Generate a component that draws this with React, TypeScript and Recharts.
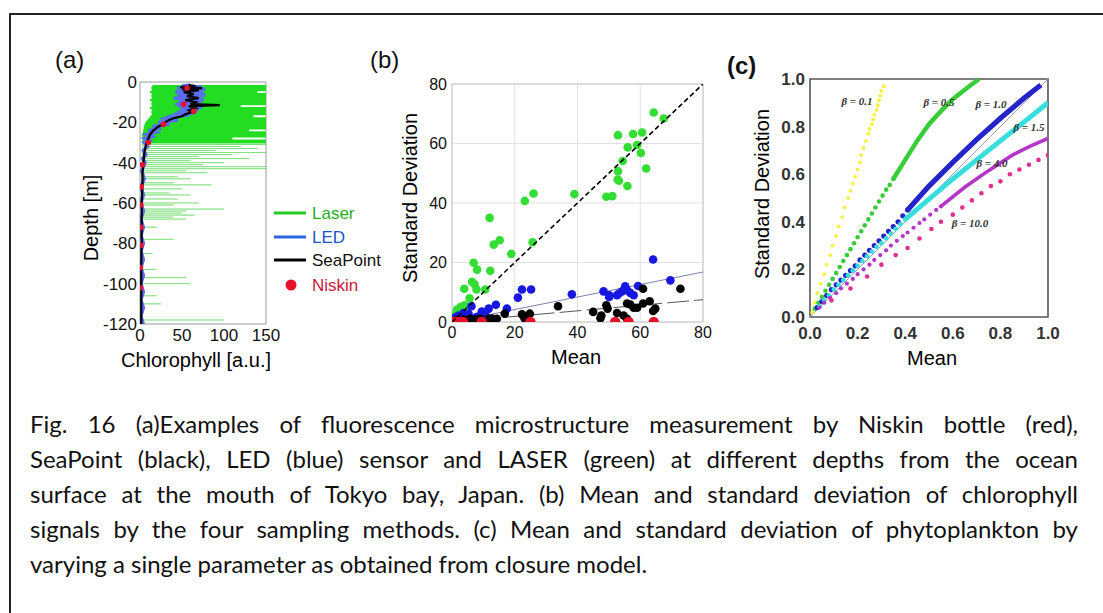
import React from 'react';
import { ScatterChart, Scatter, XAxis, YAxis, CartesianGrid, ReferenceArea } from 'recharts';

const SANS = '"Liberation Sans", Arial, sans-serif';
const SERIF = '"Liberation Serif", "DejaVu Serif", serif';
const CAPTION_FONT = 'Lato, "Open Sans", sans-serif';

// ---- (a) depth profiles: depth [m] (negative = down), chlorophyll [a.u.]
const laserDenseDepth = [-2, -3, -4, -5, -6, -7, -8, -9, -10, -11, -12, -13, -14, -15, -16, -17, -18, -19, -20, -21, -22, -23, -24, -25, -26, -27, -28, -29, -30];
const laserDenseLow = [16, 15, 16, 14, 16, 15, 16, 14, 16, 15, 16, 14, 16, 15, 16, 14, 12, 10, 8, 7, 6, 6, 5, 5, 4, 4, 4, 4, 4];
const laserDenseHigh = [150, 150, 150, 140, 150, 150, 150, 150, 150, 150, 120, 150, 150, 150, 150, 135, 150, 150, 150, 150, 150, 150, 130, 150, 150, 150, 110, 150, 150];

const laserSparseDepth = [-31, -32, -33, -34, -35, -36, -37, -38, -39, -40, -41, -42, -43, -44, -45, -47, -48, -50, -51, -53, -55, -56, -58, -60, -61, -63, -64, -65, -66, -67, -68, -72, -78, -85, -93, -97, -100, -106, -110, -118];
const laserSparseLow = [3, 3, 3, 3, 3, 3, 3, 3, 3, 3, 3, 3, 3, 3, 3, 2, 2, 2, 2, 2, 2, 2, 2, 2, 2, 2, 2, 2, 2, 2, 2, 2, 2, 2, 2, 2, 2, 2, 2, 2];
const laserSparseHigh = [150, 120, 140, 90, 150, 110, 70, 130, 60, 100, 75, 150, 150, 55, 80, 45, 60, 40, 85, 50, 35, 60, 45, 70, 40, 100, 55, 50, 65, 40, 55, 20, 40, 15, 20, 55, 60, 20, 25, 100];

const ledDepth = [
  -1.5, -2, -2.5, -3, -3.5, -4, -4.5, -5, -5.5, -6, -6.5, -7, -7.5, -8, -8.5, -9, -9.5, -10, -10.5, -11, -11.5, -12,
  -12.5, -13, -13.5, -14, -14.5, -15, -15.5, -16, -16.5, -17,
  -18, -19, -20, -21, -22, -23, -24, -25, -26, -27, -28, -29, -30, -32, -34, -36, -38, -40,
  -44, -48, -52, -56, -60, -64, -68, -72, -76, -80, -84, -88, -92, -96, -100, -104, -108, -112, -116, -120,
];
const ledChl = [
  60, 50, 74, 44, 78, 46, 76, 42, 74, 48, 78, 44, 72, 40, 76, 48, 74, 46, 70, 42, 72, 46,
  74, 50, 70, 48, 68, 44, 64, 40, 58, 36,
  30, 45, 22, 35, 15, 25, 10, 18, 8, 14, 6, 11, 5, 9, 4, 7, 3, 6,
  2, 5, 1, 4, 1, 4, 1, 4, 1, 4, 1, 4, 1, 4, 1, 4, 1, 4, 1, 4,
];

const seaPointDepth = [-1.5, -2, -2.5, -3, -3.5, -4, -5, -6, -7, -8, -9, -10, -11, -11.5, -12, -13, -14, -15, -16, -17, -18, -19, -20, -21, -22, -24, -26, -28, -30, -33, -36, -40, -45, -50, -60, -70, -80, -90, -100, -110, -120];
const seaPointChl = [58, 66, 48, 74, 50, 70, 52, 64, 56, 70, 54, 66, 60, 95, 58, 66, 58, 62, 54, 50, 40, 34, 30, 28, 22, 16, 12, 10, 8, 6, 5, 4, 3, 3, 2, 2, 2, 1.5, 1.5, 1.5, 1.5];

const niskinDepth = [-3, -11, -14.5, -21, -30, -41, -52, -61, -72, -81, -92, -102];
const niskinChl = [56, 52, 64, 28, 10, 3, 1.5, 1, 1, 1, 0.5, 0.5];

const depthTicks = [0, -20, -40, -60, -80, -100, -120];
const chlTicks = [0, 50, 100, 150];

// ---- (b) mean vs standard deviation, [mean, sd]
const bLaser: [number, number][] = [
  [64.3, 70.4], [67.5, 68.4], [52.9, 62.8], [57.7, 63.2], [60.6, 63.7], [56.0, 58.7], [59.0, 59.5], [60.2, 56.8],
  [54.4, 54.1], [52.9, 50.7], [52.8, 47.9], [53.2, 47.5], [61.9, 51.6], [55.9, 45.7], [49.2, 42.1], [51.1, 42.3],
  [39.0, 43.0], [26.0, 43.2], [23.2, 40.7], [12.0, 35.0], [15.2, 27.5], [13.3, 26.0], [25.7, 26.8], [18.9, 22.9],
  [12.2, 17.2], [6.9, 19.9], [8.0, 17.6], [6.4, 13.5], [7.2, 12.7], [7.8, 10.9], [10.6, 10.9], [3.9, 11.2],
  [5.6, 8.0], [4.0, 5.6], [2.7, 5.0], [1.6, 4.2], [2.4, 3.0], [3.2, 4.5], [1.0, 2.5], [0.5, 1.5],
];
const bLed: [number, number][] = [
  [64.1, 21.0], [69.6, 14.0], [59.3, 12.1], [55.2, 12.0], [55.8, 10.7], [56.8, 9.8], [54.2, 10.3], [53.1, 9.5],
  [52.6, 9.0], [50.1, 9.0], [48.3, 10.3], [50.1, 8.4], [57.9, 9.0], [38.2, 9.3], [25.2, 10.9], [22.3, 10.9],
  [21.0, 8.2], [17.5, 4.5], [14.0, 5.8], [11.7, 4.5], [10.6, 2.8], [9.5, 3.5], [6.2, 5.3], [5.3, 2.8],
  [3.7, 3.0], [2.1, 2.2], [7.8, 1.7], [9.0, 2.2], [1.0, 1.5], [4.5, 1.8],
];
const bSeaPoint: [number, number][] = [
  [72.8, 11.2], [60.9, 11.2], [63.0, 7.0], [60.9, 6.2], [59.0, 4.8], [56.8, 5.9], [57.9, 4.8], [55.8, 6.2],
  [64.8, 4.5], [64.1, 3.7], [49.2, 5.6], [49.6, 4.5], [45.0, 3.4], [47.6, 2.2], [47.3, 1.3], [52.6, 3.0],
  [54.7, 2.2], [55.8, 1.1], [33.8, 5.3], [24.8, 2.8], [22.3, 2.6], [23.1, 1.3], [16.8, 2.8], [14.3, 1.1],
  [11.7, 1.1], [9.0, 1.1], [5.8, 1.1], [3.7, 0.8], [1.6, 0.6], [7.5, 0.9], [12.8, 1.2],
];
const bNiskin: [number, number][] = [[0.5, 0], [1.5, 0], [2.5, 0], [3.5, 0], [9.5, 0], [25, 0], [52, 0], [56.3, 0], [64.3, 0]];
const fitLaser: [number, number][] = [[0, 0], [80, 80]];
const fitLed: [number, number][] = [[0, 0], [80, 16.8]];
const fitSeaPoint: [number, number][] = [[0, 0], [80, 7.5]];
const bTicks = [0, 20, 40, 60, 80];

// ---- (c) closure model, [mean, sd]
const beta01Dots: [number, number][] = [
  [0.01, 0.02], [0.02, 0.06], [0.03, 0.10], [0.045, 0.14], [0.06, 0.18], [0.07, 0.22], [0.085, 0.26], [0.095, 0.30],
  [0.11, 0.34], [0.12, 0.38], [0.135, 0.42], [0.145, 0.46], [0.16, 0.50], [0.17, 0.53], [0.18, 0.56], [0.19, 0.59],
  [0.20, 0.62], [0.21, 0.65], [0.215, 0.68], [0.225, 0.71], [0.235, 0.74], [0.245, 0.77], [0.25, 0.79], [0.26, 0.81],
  [0.265, 0.83], [0.27, 0.85], [0.28, 0.87], [0.285, 0.89], [0.29, 0.91], [0.295, 0.93], [0.30, 0.95], [0.31, 0.97],
];
const beta05Dots: [number, number][] = [
  [0.02, 0.035], [0.035, 0.06], [0.05, 0.085], [0.065, 0.11], [0.08, 0.135], [0.095, 0.16], [0.11, 0.185], [0.125, 0.21],
  [0.14, 0.235], [0.155, 0.26], [0.17, 0.285], [0.185, 0.31], [0.20, 0.335], [0.215, 0.36], [0.23, 0.385], [0.245, 0.41],
  [0.26, 0.435], [0.275, 0.46], [0.29, 0.485], [0.305, 0.51], [0.32, 0.535], [0.335, 0.555], [0.35, 0.58],
];
const beta05Curve: [number, number][] = [[0.35, 0.58], [0.40, 0.66], [0.45, 0.74], [0.50, 0.81], [0.55, 0.865], [0.60, 0.915], [0.65, 0.955], [0.71, 1.0]];
const beta10Dots: [number, number][] = [
  [0.03, 0.04], [0.05, 0.065], [0.07, 0.09], [0.09, 0.115], [0.11, 0.135], [0.13, 0.155], [0.15, 0.175], [0.17, 0.195],
  [0.19, 0.215], [0.21, 0.24], [0.23, 0.26], [0.25, 0.28], [0.27, 0.30], [0.29, 0.32], [0.31, 0.34], [0.33, 0.36],
  [0.35, 0.38], [0.37, 0.40], [0.39, 0.425], [0.41, 0.45],
];
const beta10Curve: [number, number][] = [[0.41, 0.45], [0.50, 0.55], [0.60, 0.65], [0.70, 0.745], [0.80, 0.835], [0.90, 0.92], [0.97, 0.975]];
const beta15Dots: [number, number][] = [
  [0.04, 0.045], [0.06, 0.07], [0.08, 0.09], [0.10, 0.115], [0.12, 0.135], [0.14, 0.155], [0.16, 0.175], [0.18, 0.195],
  [0.20, 0.215], [0.22, 0.235], [0.24, 0.255], [0.26, 0.275], [0.28, 0.295], [0.30, 0.31], [0.32, 0.33], [0.34, 0.35],
  [0.36, 0.37], [0.38, 0.39], [0.40, 0.41],
];
const beta15Curve: [number, number][] = [[0.40, 0.41], [0.50, 0.495], [0.60, 0.58], [0.70, 0.66], [0.80, 0.74], [0.90, 0.82], [1.0, 0.90]];
const beta40Dots: [number, number][] = [
  [0.04, 0.04], [0.06, 0.06], [0.085, 0.08], [0.11, 0.10], [0.13, 0.12], [0.155, 0.14], [0.18, 0.16], [0.20, 0.18],
  [0.225, 0.20], [0.25, 0.22], [0.27, 0.24], [0.295, 0.26], [0.32, 0.28], [0.34, 0.30], [0.365, 0.32], [0.39, 0.34],
  [0.41, 0.355], [0.435, 0.375], [0.46, 0.395], [0.48, 0.41], [0.505, 0.43], [0.53, 0.45], [0.55, 0.465],
];
const beta40Curve: [number, number][] = [[0.55, 0.465], [0.65, 0.545], [0.75, 0.615], [0.85, 0.68], [0.93, 0.72], [1.0, 0.75]];
const beta100Dots: [number, number][] = [
  [0.09, 0.07], [0.17, 0.12], [0.24, 0.17], [0.30, 0.22], [0.36, 0.26], [0.41, 0.29], [0.46, 0.33], [0.51, 0.37],
  [0.55, 0.40], [0.60, 0.43], [0.64, 0.46], [0.68, 0.49], [0.72, 0.52], [0.76, 0.55], [0.80, 0.57], [0.84, 0.60],
  [0.88, 0.62], [0.92, 0.64], [0.96, 0.66], [1.0, 0.68],
];
const diagonal: [number, number][] = [[0, 0], [1, 1]];
const cTicks = [0, 0.2, 0.4, 0.6, 0.8, 1.0];

const captionLines = [
  'Fig. 16 (a)Examples of fluorescence microstructure measurement by Niskin bottle (red),',
  'SeaPoint (black), LED (blue) sensor and LASER (green) at different depths from the ocean',
  'surface at the mouth of Tokyo bay, Japan. (b) Mean and standard deviation of chlorophyll',
  'signals by the four sampling methods. (c) Mean and standard deviation of phytoplankton by',
  'varying a single parameter as obtained from closure model.',
];

// helpers
const xy = (pts: [number, number][]) => pts.map(([x, y]) => ({ x, y }));
const profile = (depth: number[], chl: number[]) => depth.map((d, i) => ({ x: chl[i], y: d }));
// each spike goes out from the low edge to the peak and back, at one depth
const spikes = (depth: number[], low: number[], high: number[]) =>
  depth.flatMap((d, i) => [
    { x: low[i], y: d },
    { x: high[i], y: d },
    { x: low[i], y: d },
  ]);

const noDot = () => <g />;
const dot = (r: number, fill: string) => (p: any) => <circle cx={p.cx} cy={p.cy} r={r} fill={fill} />;

function PanelA() {
  const tick = { fontSize: 17, fill: '#111', fontFamily: SANS };
  return (
    <ScatterChart width={200} height={320} margin={{ top: 42, right: 14, bottom: 6, left: 0 }}>
      <XAxis type="number" dataKey="x" domain={[0, 150]} ticks={chlTicks} allowDataOverflow
        axisLine={false} tickLine={false} tickSize={0} tickMargin={5} height={30} tick={tick} interval={0} />
      <YAxis type="number" dataKey="y" domain={[-120, 0]} ticks={depthTicks} allowDataOverflow
        axisLine={false} tickLine={false} tickSize={0} tickMargin={3} width={60} tick={tick} interval={0} />
      <Scatter data={spikes(laserSparseDepth, laserSparseLow, laserSparseHigh)} shape={noDot} isAnimationActive={false}
        line={{ stroke: '#3ccf3c', strokeWidth: 0.7, strokeOpacity: 0.6 }} lineType="joint" />
      <Scatter data={spikes(laserDenseDepth, laserDenseLow, laserDenseHigh)} shape={noDot} isAnimationActive={false}
        line={{ stroke: '#22dd22', strokeWidth: 2.2 }} lineType="joint" />
      <Scatter data={profile(ledDepth, ledChl)} shape={noDot} isAnimationActive={false}
        line={{ stroke: '#5a6cf0', strokeWidth: 3.5 }} lineType="joint" />
      <Scatter data={profile(seaPointDepth, seaPointChl)} shape={noDot} isAnimationActive={false}
        line={{ stroke: '#000000', strokeWidth: 2.2 }} lineType="joint" />
      <Scatter data={profile(niskinDepth, niskinChl)} shape={dot(2.8, '#e8102a')} isAnimationActive={false} />
      <ReferenceArea x1={0} x2={150} y1={-120} y2={0} fill="none" stroke="#9a9a9a" strokeWidth={1} ifOverflow="visible" />
    </ScatterChart>
  );
}

function PanelB() {
  const tick = { fontSize: 16, fill: '#111', fontFamily: SANS };
  return (
    <ScatterChart width={330} height={320} margin={{ top: 44, right: 17, bottom: 8, left: 0 }}>
      <CartesianGrid stroke="#e2e2e2" strokeWidth={1} />
      <XAxis type="number" dataKey="x" domain={[0, 80]} ticks={bTicks} allowDataOverflow
        axisLine={false} tickLine={false} tickSize={0} tickMargin={5} height={30} tick={tick} interval={0} />
      <YAxis type="number" dataKey="y" domain={[0, 80]} ticks={bTicks} allowDataOverflow
        axisLine={false} tickLine={false} tickSize={0} tickMargin={5} width={62} tick={tick} interval={0} />
      <ReferenceArea x1={0} x2={80} y1={0} y2={80} fill="none" stroke="#c4c4c4" strokeWidth={1} ifOverflow="visible" />
      <Scatter data={xy(fitLed)} shape={noDot} isAnimationActive={false}
        line={{ stroke: '#7070a8', strokeWidth: 0.9 }} lineType="joint" />
      <Scatter data={xy(fitSeaPoint)} shape={noDot} isAnimationActive={false}
        line={{ stroke: '#444', strokeWidth: 0.9, strokeDasharray: '22 5' }} lineType="joint" />
      <Scatter data={xy(bLaser)} shape={dot(4.3, '#33dd33')} isAnimationActive={false} />
      <Scatter data={xy(bLed)} shape={dot(4.3, '#1717e0')} isAnimationActive={false} />
      <Scatter data={xy(bSeaPoint)} shape={dot(4.3, '#000000')} isAnimationActive={false} />
      <Scatter data={xy(bNiskin)} shape={dot(5.2, '#e8102a')} isAnimationActive={false} />
      <Scatter data={xy(fitLaser)} shape={noDot} isAnimationActive={false}
        line={{ stroke: '#000', strokeWidth: 1.6, strokeDasharray: '5 3' }} lineType="joint" />
    </ScatterChart>
  );
}

function PanelC() {
  const tick = { fontSize: 17, fill: '#333', fontFamily: SANS, fontWeight: 700 };
  return (
    <ScatterChart width={310} height={320} margin={{ top: 39, right: 12, bottom: 8, left: 0 }}>
      <XAxis type="number" dataKey="x" domain={[0, 1]} ticks={cTicks} allowDataOverflow tickFormatter={(v: number) => v.toFixed(1)}
        axisLine={false} tickLine={false} tickSize={0} tickMargin={10} height={35} tick={tick} interval={0} />
      <YAxis type="number" dataKey="y" domain={[0, 1]} ticks={cTicks} allowDataOverflow tickFormatter={(v: number) => v.toFixed(1)}
        axisLine={false} tickLine={false} tickSize={0} tickMargin={5} width={60} tick={tick} interval={0} />
      <Scatter data={xy(diagonal)} shape={noDot} isAnimationActive={false}
        line={{ stroke: '#a09ab8', strokeWidth: 1 }} lineType="joint" />
      <Scatter data={xy(beta01Dots)} shape={dot(1.9, '#f4f23c')} isAnimationActive={false} />
      <Scatter data={xy(beta05Dots)} shape={dot(2.3, '#38cc38')} isAnimationActive={false} />
      <Scatter data={xy(beta05Curve)} shape={noDot} isAnimationActive={false}
        line={{ stroke: '#38cc38', strokeWidth: 4.5 }} lineType="joint" />
      <Scatter data={xy(beta10Dots)} shape={dot(2.6, '#2424c8')} isAnimationActive={false} />
      <Scatter data={xy(beta10Curve)} shape={noDot} isAnimationActive={false}
        line={{ stroke: '#2424c8', strokeWidth: 5.2 }} lineType="joint" />
      <Scatter data={xy(beta15Dots)} shape={dot(2.4, '#38dede')} isAnimationActive={false} />
      <Scatter data={xy(beta15Curve)} shape={noDot} isAnimationActive={false}
        line={{ stroke: '#38dede', strokeWidth: 5 }} lineType="joint" />
      <Scatter data={xy(beta40Dots)} shape={dot(2.1, '#b436c8')} isAnimationActive={false} />
      <Scatter data={xy(beta40Curve)} shape={noDot} isAnimationActive={false}
        line={{ stroke: '#b436c8', strokeWidth: 3.6 }} lineType="joint" />
      <Scatter data={xy(beta100Dots)} shape={dot(2.3, '#e0308e')} isAnimationActive={false} />
      <ReferenceArea x1={0} x2={1} y1={0} y2={1} fill="none" stroke="#555" strokeWidth={1.6} ifOverflow="visible" />
    </ScatterChart>
  );
}

const betaLabels = [
  { text: 'β = 0.1', x: 857, y: 105 },
  { text: 'β = 0.5', x: 939, y: 106 },
  { text: 'β = 1.0', x: 991, y: 108 },
  { text: 'β = 1.5', x: 1029, y: 131 },
  { text: 'β = 4.0', x: 992, y: 167 },
  { text: 'β = 10.0', x: 970, y: 227 },
];

const legendItems = [
  { label: 'Laser', color: '#22cc22', text: '#1fae1f', y: 213, kind: 'line' },
  { label: 'LED', color: '#2a62e0', text: '#1f55cc', y: 237, kind: 'line' },
  { label: 'SeaPoint', color: '#000', text: '#111', y: 260, kind: 'line' },
  { label: 'Niskin', color: '#e8102a', text: '#c8183a', y: 285, kind: 'dot' },
];

function Overlay() {
  const axisTitle = { fontFamily: SANS, fontSize: 20, fill: '#000' };
  return (
    <svg width={1103} height={613} style={{ position: 'absolute', left: 0, top: 0, pointerEvents: 'none' }}>
      <text x={55} y={68} fontFamily={SANS} fontSize={24} fill="#111">(a)</text>
      <text x={370} y={68} fontFamily={SANS} fontSize={24} fill="#111">(b)</text>
      <text x={727} y={74} fontFamily={SANS} fontSize={24} fontWeight={700} fill="#111">(c)</text>

      <text {...axisTitle} x={196} y={367} textAnchor="middle">Chlorophyll [a.u.]</text>
      <text {...axisTitle} transform="translate(98 218) rotate(-90)" textAnchor="middle">Depth [m]</text>
      <text {...axisTitle} x={576} y={364} textAnchor="middle">Mean</text>
      <text {...axisTitle} transform="translate(417 198) rotate(-90)" textAnchor="middle">Standard Deviation</text>
      <text {...axisTitle} x={932} y={365} textAnchor="middle">Mean</text>
      <text {...axisTitle} transform="translate(769 194) rotate(-90)" textAnchor="middle">Standard Deviation</text>

      {legendItems.map((it) => (
        <g key={it.label}>
          {it.kind === 'line' ? (
            <line x1={274} x2={306} y1={it.y} y2={it.y} stroke={it.color} strokeWidth={3} />
          ) : (
            <circle cx={291} cy={it.y} r={5.5} fill={it.color} />
          )}
          <text x={312} y={it.y + 6} fontFamily={SANS} fontSize={17} fill={it.text}>{it.label}</text>
        </g>
      ))}

      {betaLabels.map((b) => (
        <text key={b.text} x={b.x} y={b.y} textAnchor="middle" fontFamily={SERIF} fontStyle="italic"
          fontWeight={700} fontSize={11} fill="#333">{b.text}</text>
      ))}
    </svg>
  );
}

export default function App() {
  return (
    <div style={{ position: 'absolute', left: 0, top: 0, width: 1103, height: 613, background: '#fff', overflow: 'hidden' }}>
      <div style={{ position: 'absolute', left: 9, top: 13, width: 1200, height: 700, borderLeft: '2px solid #222', borderTop: '2px solid #222' }} />
      <div style={{ position: 'absolute', left: 80, top: 40 }}><PanelA /></div>
      <div style={{ position: 'absolute', left: 390, top: 40 }}><PanelB /></div>
      <div style={{ position: 'absolute', left: 750, top: 40 }}><PanelC /></div>
      <Overlay />
      <div style={{ position: 'absolute', left: 30, top: 406, width: 1048, fontFamily: CAPTION_FONT, fontSize: 24, lineHeight: '35px', color: '#111' }}>
        {captionLines.map((line, i) => (
          <div key={i} style={{ textAlign: 'justify', textAlignLast: i < captionLines.length - 1 ? 'justify' : 'left' }}>{line}</div>
        ))}
      </div>
    </div>
  );
}
